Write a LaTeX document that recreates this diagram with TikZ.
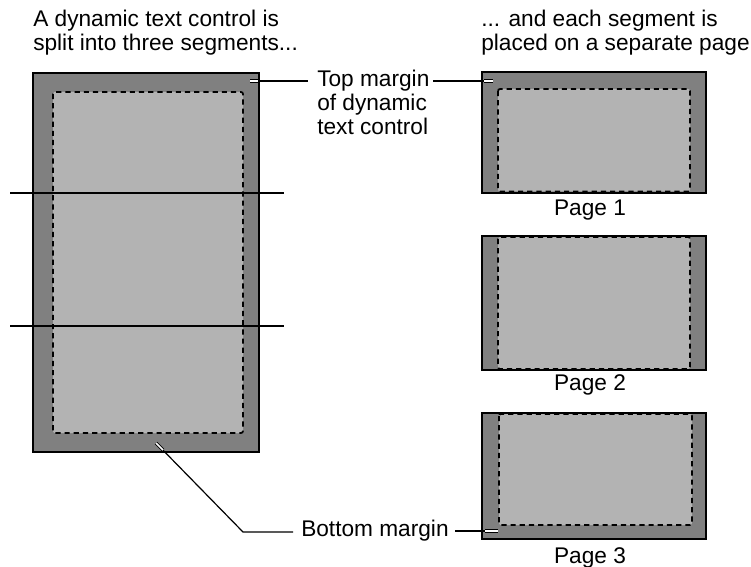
\documentclass[tikz,border=0pt]{standalone}
\usepackage{fontspec}
\setmainfont{Liberation Sans}
\definecolor{dkgray}{RGB}{128,128,128}
\definecolor{ltgray}{RGB}{179,179,179}
\begin{document}
\begin{tikzpicture}[x=0.75pt,y=-0.75pt,
  txt/.style={font=\fontsize{17}{17.8}\selectfont, inner sep=0pt, anchor=base west},
  lbl/.style={font=\fontsize{17}{17.8}\selectfont, inner sep=0pt, anchor=base},
  marginfill/.style={fill=dkgray},
  edge/.style={draw=black, line width=1.2pt},
  innerbox/.style={fill=ltgray, draw=black, line width=1.3pt, dash pattern=on 3.9pt off 3pt, rounded corners=1.5pt},
  cutline/.style={line width=1.1pt},
  leader/.style={line width=0.9pt},
  stub/.style={draw=black, line width=0.6pt, double=white, double distance=1.2pt}
]
\useasboundingbox (0,0) rectangle (751,567);

% headers
\node[txt] (h1) at (33,27) {\begin{tabular}[t]{@{}l@{}}A dynamic text control is\\split into three segments...\end{tabular}};
\node[txt] (h2) at (481,27) {\begin{tabular}[t]{@{}l@{}}... and each segment is\\placed on a separate page\end{tabular}};

% big control
\fill[marginfill] (33,73) rectangle (259,452);
\draw[innerbox] (53,92) rectangle (243,433);
\draw[edge] (33,73) rectangle (259,452);
\coordinate (c1L) at (10,193); \coordinate (c1R) at (284,193);
\coordinate (c2L) at (10,326); \coordinate (c2R) at (284,326);
\draw[cutline] (c1L) -- (c1R);
\draw[cutline] (c2L) -- (c2R);

% page 1
\fill[marginfill] (482,72) rectangle (706,193);
\draw[innerbox] (498,89) rectangle (690,191.5);
\draw[edge] (482,72) rectangle (706,193);
\node[lbl] (p1) at (590,215) {Page 1};

% page 2
\fill[marginfill] (482,236) rectangle (706,370);
\draw[innerbox] (498,237) rectangle (690,369);
\draw[edge] (482,236) rectangle (706,370);
\node[lbl] (p2) at (590,390) {Page 2};

% page 3
\fill[marginfill] (482,413) rectangle (706,539);
\draw[innerbox] (499,414) rectangle (692,525);
\draw[edge] (482,413) rectangle (706,539);
\node[lbl] (p3) at (590,563) {Page 3};

% top margin callout
\node[txt] (tm) at (317,87) {\begin{tabular}[t]{@{}l@{}}Top margin\\of dynamic\\text control\end{tabular}};
\coordinate (tmA) at (250,81);
\coordinate (tmAe) at (258,81);
\coordinate (tmL) at (308,81);
\coordinate (tmR) at (433,81);
\coordinate (tmB) at (493,81);
\coordinate (tmBe) at (484,81);
\draw[leader] (tmA) -- (tmL);
\draw[leader] (tmR) -- (tmB);
\draw[stub] (tmA) -- (tmAe);
\draw[stub] (tmBe) -- (tmB);

% bottom margin callout
\node[txt] (bm) at (301,536) {Bottom margin};
\coordinate (bmA) at (156,443);
\coordinate (bmAe) at (163,450);
\coordinate (bmK) at (243,532);
\coordinate (bmL) at (293,532);
\coordinate (bmR) at (455,531);
\coordinate (bmB) at (498,531);
\coordinate (bmBe) at (485,531);
\draw[leader] (bmA) -- (bmK) -- (bmL);
\draw[leader] (bmR) -- (bmB);
\draw[stub] (bmA) -- (bmAe);
\draw[stub] (bmBe) -- (bmB);
\end{tikzpicture}
\end{document}
